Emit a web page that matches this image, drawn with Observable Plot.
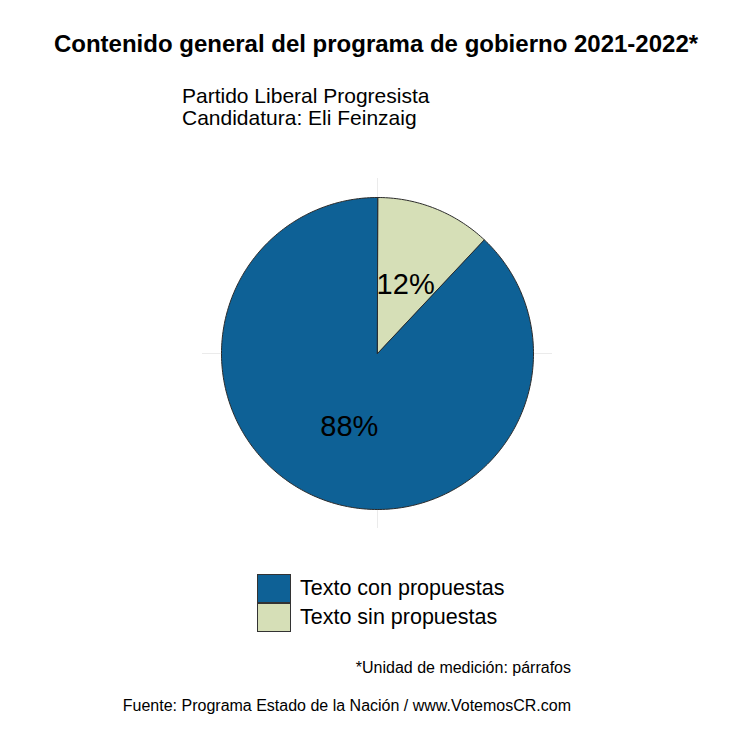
<!DOCTYPE html>
<html>
<head>
<meta charset="utf-8">
<script src="https://cdn.jsdelivr.net/npm/d3@7"></script>
<script src="https://cdn.jsdelivr.net/npm/@observablehq/plot@0.6"></script>
<style>
  html, body { margin: 0; padding: 0; background: #ffffff; }
  body { width: 750px; height: 738px; position: relative; overflow: hidden; font-family: "Liberation Sans", Arial, Helvetica, sans-serif; color: #000; }
  #title { position: absolute; left: 0; width: 752px; top: 30px; text-align: center; font-weight: bold; font-size: 24px; line-height: 28px; }
  #subtitle { position: absolute; left: 182px; top: 85px; font-size: 21px; line-height: 22px; }
  #chart { position: absolute; left: 0; top: 140px; }
  #legend { position: absolute; left: 257px; top: 574px; }
  .item { display: flex; align-items: center; height: 29px; }
  .swatch { width: 32px; height: 27px; border: 1px solid #333; box-sizing: content-box; margin-right: 9px; }
  .item span { font-size: 21.5px; line-height: 29px; }
  #caption { position: absolute; right: 179px; top: 659px; font-size: 16px; line-height: 18px; }
  #source { position: absolute; right: 179px; top: 697px; font-size: 16px; line-height: 18px; }
</style>
</head>
<body>
<div id="title"></div>
<div id="subtitle"></div>
<div id="chart"></div>
<div id="legend"></div>
<div id="caption"></div>
<div id="source"></div>
<script>
const titleText = "Contenido general del programa de gobierno 2021-2022*";
const subtitleLines = ["Partido Liberal Progresista", "Candidatura: Eli Feinzaig"];
const captionText = "*Unidad de medición: párrafos";
const sourceText = "Fuente: Programa Estado de la Nación / www.VotemosCR.com";

// slices in clockwise order starting at 12 o'clock
const categories = ["Texto sin propuestas", "Texto con propuestas"];
const values = [12, 88];
const labels = ["12%", "88%"];
const colors = ["#d6dfb7", "#0e6196"];
const legendOrder = ["Texto con propuestas", "Texto sin propuestas"];

document.getElementById("title").textContent = titleText;
document.getElementById("subtitle").innerHTML = subtitleLines.map(s => `<div>${s}</div>`).join("");
document.getElementById("caption").textContent = captionText;
document.getElementById("source").textContent = sourceText;

const colorOf = Object.fromEntries(categories.map((c, i) => [c, colors[i]]));
document.getElementById("legend").innerHTML = legendOrder.map(c =>
  `<div class="item"><div class="swatch" style="background:${colorOf[c]}"></div><span>${c}</span></div>`).join("");

const total = d3.sum(values);
const R = 156 / 175;      // pie radius in panel units
const labelR = 0.49 * R;
let cum = 0;
const slices = categories.map((c, i) => {
  const a0 = cum / total * 2 * Math.PI;
  cum += values[i];
  const a1 = cum / total * 2 * Math.PI;
  return {category: c, value: values[i], label: labels[i], color: colors[i], a0, a1};
});

function slicePoints(s) {
  const pts = [{x: 0, y: 0}];
  const n = Math.max(4, Math.ceil((s.a1 - s.a0) / (2 * Math.PI) * 360));
  for (let k = 0; k <= n; k++) {
    const a = s.a0 + (s.a1 - s.a0) * k / n;
    pts.push({x: R * Math.sin(a), y: R * Math.cos(a)});
  }
  return pts;
}

const labelData = slices.map(s => {
  const m = (s.a0 + s.a1) / 2;
  return {x: labelR * Math.sin(m), y: labelR * Math.cos(m), label: s.label};
});

const chart = Plot.plot({
  width: 750,
  height: 420,
  marginLeft: 202,
  marginRight: 198,
  marginTop: 38,
  marginBottom: 32,
  x: {domain: [-1, 1], axis: null},
  y: {domain: [-1, 1], axis: null},
  style: {background: "transparent", fontFamily: "Liberation Sans, Arial, sans-serif"},
  marks: [
    Plot.ruleX([0], {stroke: "#ebebeb", strokeWidth: 1}),
    Plot.ruleY([0], {stroke: "#ebebeb", strokeWidth: 1}),
    ...slices.map(s => Plot.line(slicePoints(s), {x: "x", y: "y", curve: "linear-closed", fill: s.color, stroke: "#2b2b2b", strokeWidth: 1})),
    Plot.text(labelData, {x: "x", y: "y", text: "label", fontSize: 29, fill: "#000", dy: 2})
  ]
});
document.getElementById("chart").appendChild(chart);
</script>
</body>
</html>
